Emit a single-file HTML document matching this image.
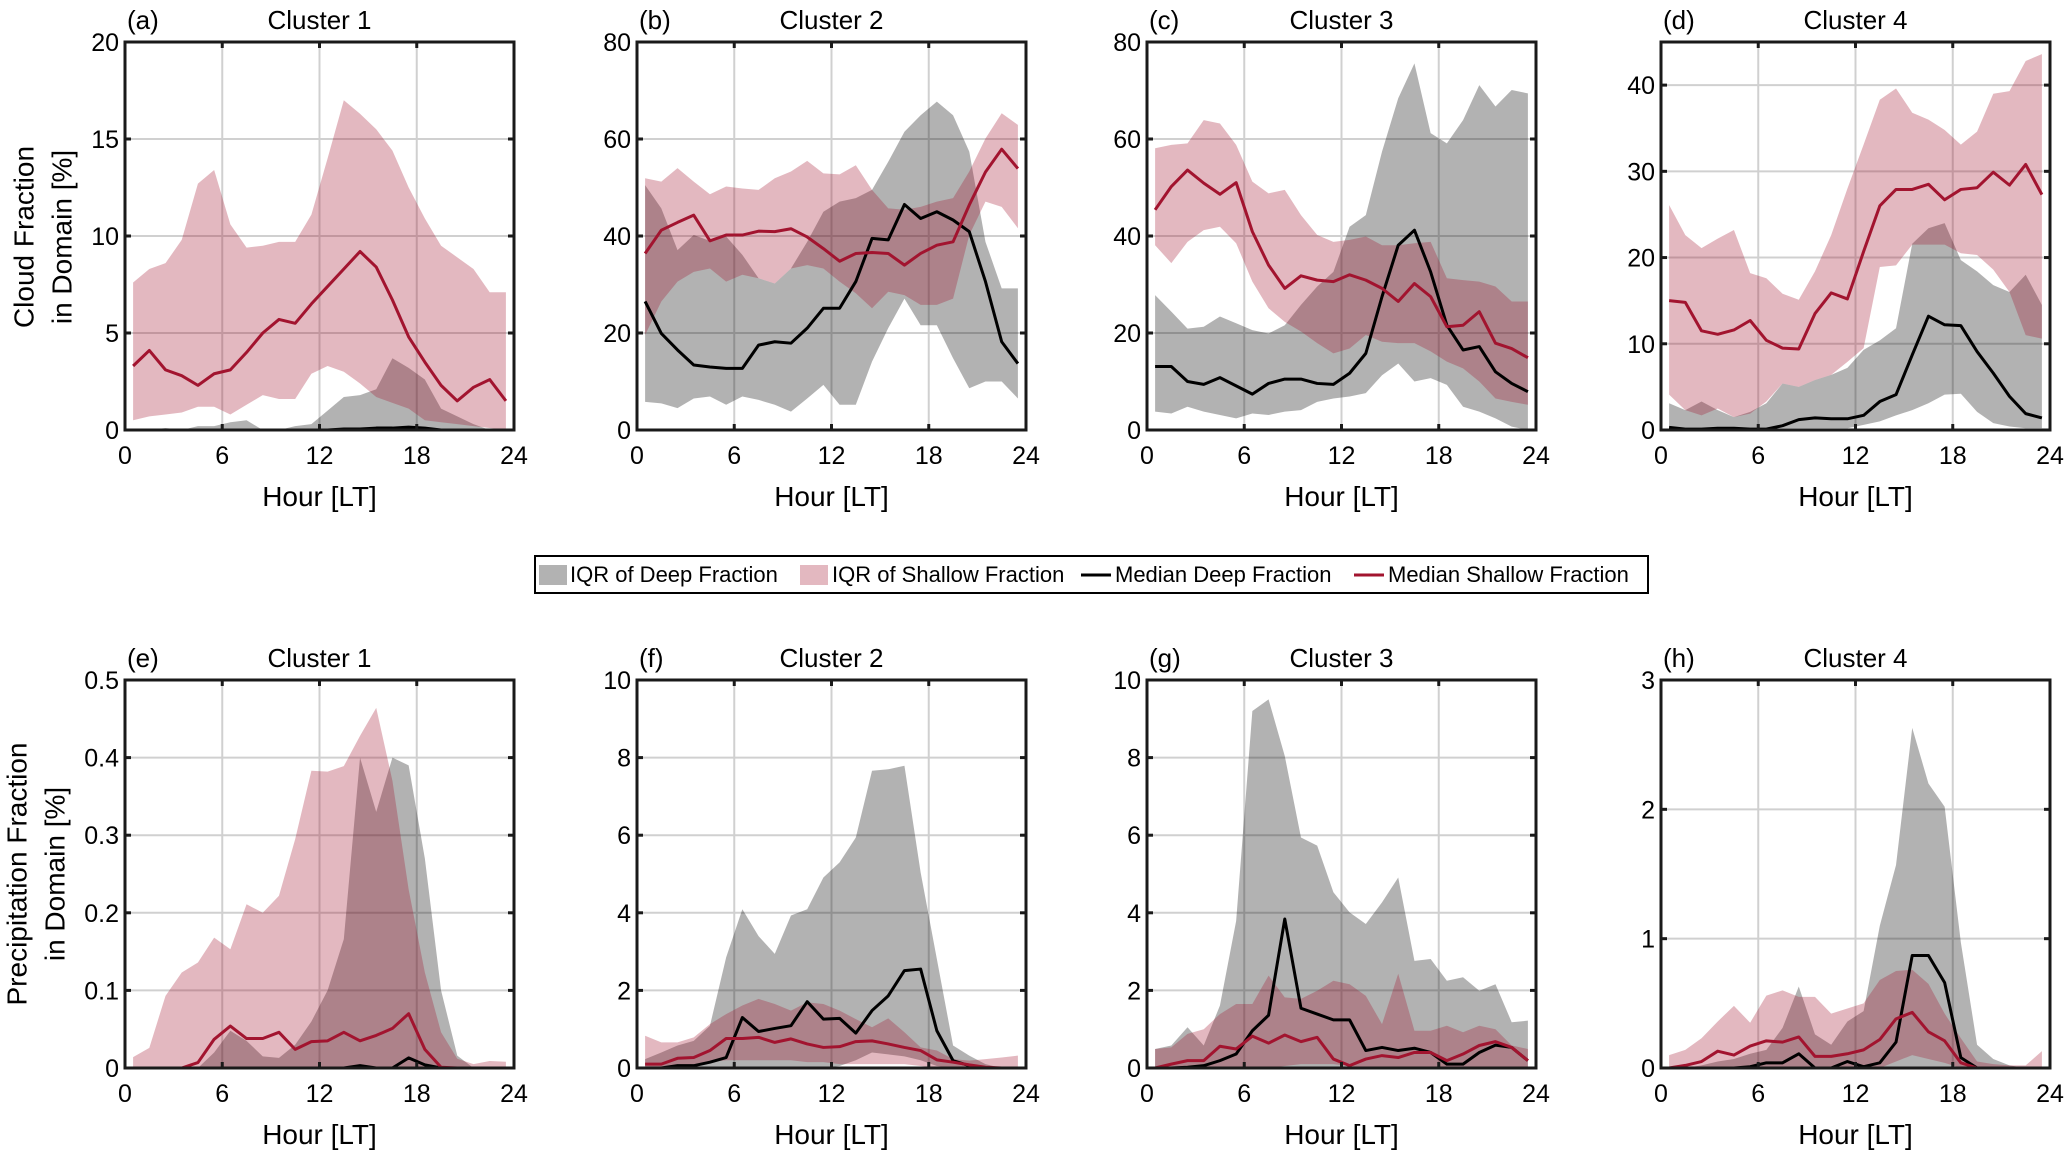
<!DOCTYPE html>
<html><head><meta charset="utf-8">
<style>
body{margin:0;background:#fff;}
svg{display:block;font-family:"Liberation Sans",sans-serif;}
</style></head>
<body>
<svg id="fig" width="2067" height="1153" viewBox="0 0 2067 1153">
<text x="24" y="237" transform="rotate(-90 24 237)" text-anchor="middle" dominant-baseline="central" font-size="28">Cloud Fraction</text>
<text x="62" y="237" transform="rotate(-90 62 237)" text-anchor="middle" dominant-baseline="central" font-size="28">in Domain [%]</text>
<text x="17" y="874" transform="rotate(-90 17 874)" text-anchor="middle" dominant-baseline="central" font-size="28">Precipitation Fraction</text>
<text x="55" y="874" transform="rotate(-90 55 874)" text-anchor="middle" dominant-baseline="central" font-size="28">in Domain [%]</text>
<g>
<rect x="535" y="556" width="1113" height="37" fill="#fff" stroke="#000" stroke-width="2"/>
<rect x="539" y="565" width="28" height="20" fill="#000" fill-opacity="0.3"/>
<text x="570" y="582" font-size="22">IQR of Deep Fraction</text>
<rect x="800" y="565" width="28" height="20" fill="#a2142f" fill-opacity="0.3"/>
<text x="832" y="582" font-size="22">IQR of Shallow Fraction</text>
<line x1="1081" y1="575" x2="1111" y2="575" stroke="#000" stroke-width="3"/>
<text x="1115" y="582" font-size="22">Median Deep Fraction</text>
<line x1="1354" y1="575" x2="1384" y2="575" stroke="#a2142f" stroke-width="3"/>
<text x="1388" y="582" font-size="22">Median Shallow Fraction</text>
</g>
</svg>
<script>
const hours=[0.5,1.5,2.5,3.5,4.5,5.5,6.5,7.5,8.5,9.5,10.5,11.5,12.5,13.5,14.5,15.5,16.5,17.5,18.5,19.5,20.5,21.5,22.5,23.5];
const xTicks=[0,6,12,18,24];
const panelLabels=["(a)","(b)","(c)","(d)","(e)","(f)","(g)","(h)"];
const panelTitles=["Cluster 1","Cluster 2","Cluster 3","Cluster 4","Cluster 1","Cluster 2","Cluster 3","Cluster 4"];
const yMax=[20,80,80,45,0.5,10,10,3];
const yTicksA=[0,5,10,15,20];
const yTicksB=[0,20,40,60,80];
const yTicksC=[0,20,40,60,80];
const yTicksD=[0,10,20,30,40];
const yTicksE=[0,0.1,0.2,0.3,0.4,0.5];
const yTicksF=[0,2,4,6,8,10];
const yTicksG=[0,2,4,6,8,10];
const yTicksH=[0,1,2,3];
// Panel a
const aShUp=[7.6,8.3,8.6,9.8,12.7,13.4,10.6,9.4,9.5,9.7,9.7,11.1,14,17,16.3,15.5,14.4,12.5,10.9,9.5,8.9,8.3,7.1,7.1];
const aShLo=[0.5,0.7,0.8,0.9,1.2,1.2,0.8,1.3,1.8,1.6,1.6,2.9,3.3,3,2.4,1.7,1.4,1.1,0.5,0.4,0.3,0.2,0.1,0];
const aShMed=[3.3,4.1,3.1,2.8,2.3,2.9,3.1,4,5,5.7,5.5,6.5,7.4,8.3,9.2,8.4,6.7,4.8,3.5,2.3,1.5,2.2,2.6,1.5];
const aDpUp=[0,0,0.1,0,0.2,0.2,0.4,0.5,0,0,0.2,0.3,1,1.7,1.8,2.1,3.7,3.2,2.6,1.1,0.7,0.3,0,0];
const aDpLo=[0,0,0,0,0,0,0,0,0,0,0,0,0,0,0,0,0,0,0,0,0,0,0,0];
const aDpMed=[0,0,0,0,0,0,0,0,0,0,0,0,0,0.05,0.05,0.1,0.1,0.15,0.1,0,0,0,0,0];
// Panel b
const bShUp=[51.9,51.2,54,51.2,48.6,50.2,49.8,49.5,51.9,53.3,55.5,52.9,52.7,54.6,49.5,45.7,45.4,46,47.1,47.8,53.3,60.1,65.3,62.9];
const bShLo=[19.6,26.5,30.6,32.6,33.3,30.6,32,31.3,30.2,33.3,34,33.3,30.6,28.2,25.1,28.5,27.8,25.8,25.8,27.1,40.2,47.1,46,41.6];
const bShMed=[36.4,41.2,42.8,44.3,39,40.2,40.2,41,40.9,41.5,39.8,37.4,34.8,36.4,36.6,36.4,34,36.4,38.1,38.8,46.4,53.2,57.9,53.9];
const bDpUp=[50.5,45.7,37.1,40.2,39,39.9,36.1,31.3,30.2,33.3,38.8,45,47.1,47.8,49.5,55.3,61.5,64.9,67.7,64.9,57.4,38.8,29.2,29.2];
const bDpLo=[5.8,5.5,4.5,6.5,6.9,5.2,6.9,6.2,5.2,3.8,6.5,9.3,5.2,5.2,14.1,21,27.1,21.6,21.6,14.8,8.6,10,10,6.5];
const bDpMed=[26.5,19.9,16.5,13.4,13,12.7,12.7,17.5,18.2,17.9,21,25.1,25.1,30.6,39.5,39.2,46.5,43.6,45,43.3,40.9,30.6,18.2,13.7];
// Panel c
const cShUp=[58.1,58.8,59.1,63.9,63.2,58.8,51.2,48.8,49.5,44.3,40.2,38.8,39.2,39.9,38.1,38.1,38.5,38.8,31.3,30.9,30.6,29.6,26.5,26.5];
const cShLo=[38.1,34.4,38.8,41.2,41.9,38.5,30.6,25.1,22.3,20.3,17.9,15.8,16.8,19.6,18.2,17.9,17.9,16.2,14.1,12.7,10,6.5,5.8,5.2];
const cShMed=[45.4,50.2,53.6,50.9,48.6,51,40.9,34,29.2,31.8,30.9,30.6,32,30.9,29.2,26.5,30.2,27.5,21.3,21.6,24.4,17.9,16.8,14.9];
const cDpUp=[27.8,24.4,20.9,21.3,23.4,22,20.6,19.9,21.6,25.8,29.6,32.6,41.9,44.3,57.4,68.4,75.6,61.2,59.1,63.9,71.1,66.7,70.1,69.4];
const cDpLo=[3.8,3.4,4.8,3.8,3.1,2.4,3.4,3.1,3.8,4.1,5.8,6.5,6.9,7.6,11.3,13.7,10,10.7,9.3,4.8,3.8,2.4,0.7,0];
const cDpMed=[13.1,13.1,10,9.4,10.8,9.1,7.4,9.6,10.5,10.5,9.6,9.4,11.7,15.8,27.5,38.1,41.2,32.6,21.6,16.5,17.2,12,9.6,7.9];
// Panel d
const dShUp=[26.1,22.6,21.1,22.2,23.2,18.2,17.6,15.8,15.1,18.4,22.6,28,33.1,38.3,39.6,36.8,36,34.8,33.1,34.6,39,39.3,42.8,43.6];
const dShLo=[4.1,2.3,1.7,2.5,1.5,1.9,3.3,5.4,5,5.8,6.4,7.9,9.5,18.9,19.1,21.5,21.5,21.5,20.5,20.3,18.6,16,11,10.6];
const dShMed=[15,14.8,11.5,11.1,11.6,12.7,10.4,9.5,9.4,13.5,15.9,15.2,20.7,26,27.9,27.9,28.5,26.7,27.9,28.1,29.9,28.4,30.8,27.3];
const dDpUp=[3.1,2.3,3.3,2.3,1.5,2.1,3.1,5.4,5,5.8,6.4,7.2,9.3,10.4,11.8,21.6,23.4,24,19.7,18.4,16.8,16,18,14.5];
const dDpLo=[0.2,0.2,0.2,0.2,0.2,0.2,0.2,0.2,0.2,0.2,0.2,0.2,0.6,1,1.7,2.3,3.1,4.1,4.2,2.1,0.8,0.4,0.2,0.2];
const dDpMed=[0.3,0.1,0.1,0.2,0.2,0.1,0.1,0.5,1.2,1.4,1.3,1.3,1.7,3.3,4.1,8.7,13.2,12.2,12.1,9.1,6.6,3.9,1.9,1.4];
// Panel e
const eShUp=[0.014,0.026,0.093,0.123,0.136,0.168,0.153,0.211,0.2,0.222,0.295,0.383,0.382,0.389,0.428,0.464,0.37,0.23,0.123,0.046,0.012,0.005,0.009,0.008];
const eShLo=[0,0,0,0,0,0,0,0,0,0,0,0,0,0,0,0,0,0,0,0,0,0,0,0];
const eShMed=[0,0,0,0,0.007,0.037,0.054,0.038,0.038,0.046,0.024,0.034,0.035,0.046,0.035,0.042,0.051,0.07,0.024,0.001,0,0,0,0];
const eDpUp=[0,0,0,0,0,0.02,0.048,0.035,0.015,0.013,0.03,0.06,0.1,0.166,0.4,0.33,0.4,0.39,0.27,0.1,0.016,0,0,0];
const eDpLo=[0,0,0,0,0,0,0,0,0,0,0,0,0,0,0,0,0,0,0,0,0,0,0,0];
const eDpMed=[0,0,0,0,0,0,0,0,0,0,0,0,0,0,0.003,0,0,0.013,0.004,0,0,0,0,0];
// Panel f
const fShUp=[0.83,0.66,0.66,0.79,1.13,1.39,1.61,1.78,1.65,1.48,1.69,1.65,1.48,1.26,1.05,1.28,0.92,0.53,0.45,0.23,0.19,0.23,0.27,0.32];
const fShLo=[0,0,0.05,0.1,0.15,0.2,0.2,0.2,0.2,0.2,0.15,0.15,0.1,0.1,0.1,0.1,0.1,0.05,0,0,0,0,0,0];
const fShMed=[0.1,0.1,0.25,0.27,0.45,0.76,0.76,0.79,0.66,0.75,0.62,0.53,0.55,0.68,0.7,0.62,0.53,0.45,0.21,0.15,0.08,0.02,0,0];
const fDpUp=[0.23,0.4,0.58,0.7,1.09,2.85,4.09,3.4,2.94,3.93,4.09,4.91,5.3,5.94,7.66,7.7,7.79,5.04,2.81,0.58,0.32,0.1,0,0];
const fDpLo=[0,0,0,0,0,0,0,0,0,0,0,0,0.05,0.2,0.4,0.35,0.3,0.2,0.05,0,0,0,0,0];
const fDpMed=[0,0,0.06,0.06,0.15,0.27,1.3,0.94,1.02,1.09,1.71,1.26,1.28,0.9,1.48,1.86,2.51,2.55,0.96,0.19,0.06,0,0,0];
// Panel g
const gShUp=[0.49,0.53,0.88,1,1.39,1.65,1.65,2.38,1.82,1.78,1.99,2.25,2.16,1.86,1.13,2.43,0.96,0.96,1.09,0.92,1.09,1,0.58,0.49];
const gShLo=[0,0,0,0,0,0,0,0,0.05,0.1,0.1,0.1,0.05,0,0,0,0,0,0,0,0,0,0,0];
const gShMed=[0,0.1,0.19,0.19,0.56,0.49,0.82,0.64,0.85,0.68,0.79,0.23,0.06,0.23,0.32,0.27,0.4,0.4,0.19,0.36,0.58,0.68,0.53,0.19];
const gDpUp=[0.49,0.58,1.05,0.58,1.61,3.79,9.2,9.5,8.04,5.94,5.73,4.53,4.01,3.71,4.27,4.91,2.76,2.81,2.25,2.34,1.99,2.16,1.18,1.22];
const gDpLo=[0,0,0,0,0,0,0,0,0,0,0,0,0,0,0,0,0,0,0,0,0,0,0,0];
const gDpMed=[0,0,0.02,0.06,0.19,0.36,0.96,1.36,3.84,1.54,1.39,1.24,1.24,0.45,0.53,0.45,0.51,0.4,0.1,0.1,0.4,0.59,0.53,0.19];
// Panel h
const hShUp=[0.1,0.14,0.23,0.36,0.48,0.35,0.56,0.6,0.55,0.55,0.42,0.46,0.5,0.68,0.75,0.76,0.65,0.42,0.23,0.05,0.03,0.02,0.02,0.13];
const hShLo=[0,0,0,0,0,0,0,0,0,0,0,0,0,0,0.05,0.1,0.07,0.04,0,0,0,0,0,0];
const hShMed=[0,0.02,0.05,0.13,0.1,0.17,0.21,0.2,0.24,0.09,0.09,0.11,0.14,0.22,0.38,0.43,0.28,0.21,0.04,0,0,0,0,0];
const hDpUp=[0,0,0.02,0.05,0.07,0.11,0.14,0.31,0.63,0.26,0.18,0.36,0.44,1.1,1.57,2.63,2.2,2.02,0.97,0.18,0.07,0.02,0,0];
const hDpLo=[0,0,0,0,0,0,0,0,0,0,0,0,0,0,0,0,0,0,0,0,0,0,0,0];
const hDpMed=[0,0,0,0,0,0.01,0.04,0.04,0.11,0,0,0.05,0.01,0.04,0.2,0.87,0.87,0.66,0.08,0,0,0,0,0];

const panels=[
 {yt:yTicksA,su:aShUp,sl:aShLo,sm:aShMed,du:aDpUp,dl:aDpLo,dm:aDpMed},
 {yt:yTicksB,su:bShUp,sl:bShLo,sm:bShMed,du:bDpUp,dl:bDpLo,dm:bDpMed},
 {yt:yTicksC,su:cShUp,sl:cShLo,sm:cShMed,du:cDpUp,dl:cDpLo,dm:cDpMed},
 {yt:yTicksD,su:dShUp,sl:dShLo,sm:dShMed,du:dDpUp,dl:dDpLo,dm:dDpMed},
 {yt:yTicksE,su:eShUp,sl:eShLo,sm:eShMed,du:eDpUp,dl:eDpLo,dm:eDpMed},
 {yt:yTicksF,su:fShUp,sl:fShLo,sm:fShMed,du:fDpUp,dl:fDpLo,dm:fDpMed},
 {yt:yTicksG,su:gShUp,sl:gShLo,sm:gShMed,du:gDpUp,dl:gDpLo,dm:gDpMed},
 {yt:yTicksH,su:hShUp,sl:hShLo,sm:hShMed,du:hDpUp,dl:hDpLo,dm:hDpMed}
];
const NS="http://www.w3.org/2000/svg";
const svg=document.getElementById('fig');
const colL=[125,637,1147,1661], colW=389;
const rowT=[42,680], rowH=[388,388];
function mk(tag,attrs,parent){const e=document.createElementNS(NS,tag);for(const k in attrs)e.setAttribute(k,attrs[k]);parent.appendChild(e);return e;}
function fmt(v){return String(Math.round(v*100)/100);}
panels.forEach((p,i)=>{
 const L=colL[i%4],T=rowT[Math.floor(i/4)],W=colW,H=rowH[Math.floor(i/4)],ym=yMax[i];
 const xs=h=>L+h/24*W, ys=v=>T+H-v/ym*H;
 const g=mk('g',{},svg);
 
 
 xTicks.slice(1,-1).forEach(t=>{const l=mk('line',{x1:xs(t),x2:xs(t),y1:T,y2:T+H,stroke:'#d0d0d0','stroke-width':2},g);
  
  });
 p.yt.slice(1).forEach(t=>{if(t>=ym)return;const l=mk('line',{x1:L,x2:L+W,y1:ys(t),y2:ys(t),stroke:'#d0d0d0','stroke-width':2},g);
  
  });
 function band(up,lo,color,name){
  let d='M'+hours.map((h,k)=>xs(h)+','+ys(up[k])).join('L');
  for(let k=hours.length-1;k>=0;k--)d+='L'+xs(hours[k])+','+ys(lo[k]);
  const e=mk('path',{d:d+'Z',fill:color,'fill-opacity':0.3},g);
  
  
 }
 function line(vals,color,name){
  const e=mk('polyline',{points:hours.map((h,k)=>xs(h)+','+ys(vals[k])).join(' '),fill:'none',stroke:color,'stroke-width':3,'stroke-linejoin':'round'},g);
  
  
 }
 band(p.du,p.dl,'#000','deep-iqr-band');
 band(p.su,p.sl,'#a2142f','shallow-iqr-band');
 line(p.dm,'#000','deep-median-line');
 line(p.sm,'#a2142f','shallow-median-line');
 const fr=mk('rect',{x:L,y:T,width:W,height:H,fill:'none',stroke:'#1a1a1a','stroke-width':3},g);
 
 
 xTicks.forEach(t=>{
  mk('line',{x1:xs(t),x2:xs(t),y1:T+H,y2:T+H-6,stroke:'#1a1a1a','stroke-width':3},g);
  mk('line',{x1:xs(t),x2:xs(t),y1:T,y2:T+6,stroke:'#1a1a1a','stroke-width':3},g);
  const tx=mk('text',{x:xs(t),y:T+H+34,'text-anchor':'middle','font-size':25},g);
  tx.textContent=t;
  
  
 });
 p.yt.forEach(t=>{
  mk('line',{x1:L,x2:L+6,y1:ys(t),y2:ys(t),stroke:'#1a1a1a','stroke-width':3},g);
  mk('line',{x1:L+W,x2:L+W-6,y1:ys(t),y2:ys(t),stroke:'#1a1a1a','stroke-width':3},g);
  const tx=mk('text',{x:L-6,y:ys(t)+9,'text-anchor':'end','font-size':25},g);
  tx.textContent=fmt(t);
  
  
 });
 const xl=mk('text',{x:L+W/2,y:T+H+76,'text-anchor':'middle','font-size':28},g);
 xl.textContent='Hour [LT]';
 
 
 const pl=mk('text',{x:L+2,y:T-13,'font-size':26},g);
 pl.textContent=panelLabels[i];
 
 
 const pt=mk('text',{x:L+W/2,y:T-13,'text-anchor':'middle','font-size':26},g);
 pt.textContent=panelTitles[i];
 
 
});
</script>
</body></html>
